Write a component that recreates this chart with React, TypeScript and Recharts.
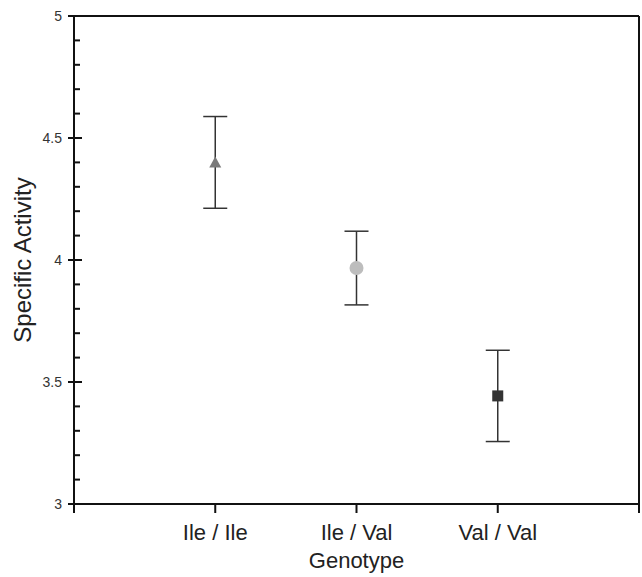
import { ScatterChart, Scatter, XAxis, YAxis, ErrorBar } from 'recharts';

const genotypes = ['Ile / Ile', 'Ile / Val', 'Val / Val'];
const positions = [1, 2, 3];
const means = [4.4, 3.967, 3.443];
const errors = [0.188, 0.151, 0.187];
const markerFills = ['#7a7a7a', '#bdbdbd', '#333333'];
const markerShapes = ['triangle', 'circle', 'square'];

const xTicks = [0, 1, 2, 3, 4];
const yTicks = [3, 3.1, 3.2, 3.3, 3.4, 3.5, 3.6, 3.7, 3.8, 3.9, 4, 4.1, 4.2, 4.3, 4.4, 4.5, 4.6, 4.7, 4.8, 4.9, 5];

const series = genotypes.map((name, i) => ({
	name,
	shape: markerShapes[i],
	fill: markerFills[i],
	data: [{ x: positions[i], y: means[i], err: errors[i] }],
}));

const FONT = '"Liberation Sans", Arial, sans-serif';
const AXIS = '#111';

const isMajor = (v: number) => Math.abs(v * 2 - Math.round(v * 2)) < 1e-6;

function LeftTick({ x, y, payload }: any) {
	const major = isMajor(payload.value);
	return (
		<g>
			<line
				x1={major ? x - 6 : x}
				x2={major ? x + 8 : x + 6}
				y1={y}
				y2={y}
				stroke={AXIS}
				strokeWidth={2}
			/>
			{major && (
				<text
					x={x - 12}
					y={y + 5}
					textAnchor="end"
					fontSize={14}
					fontFamily={FONT}
					fill="#333"
				>
					{String(payload.value)}
				</text>
			)}
		</g>
	);
}

function RightTick({ x, y, payload }: any) {
	const major = isMajor(payload.value);
	return (
		<line
			x1={x}
			x2={major ? x - 10 : x - 6}
			y1={y}
			y2={y}
			stroke={AXIS}
			strokeWidth={2}
		/>
	);
}

function BottomTick({ x, y, payload }: any) {
	const idx = positions.indexOf(payload.value);
	return (
		<g>
			<line x1={x} x2={x} y1={y} y2={y + 9} stroke={AXIS} strokeWidth={2} />
			{idx >= 0 && (
				<text
					x={x}
					y={y + 36}
					textAnchor="middle"
					fontSize={22}
					fontFamily={FONT}
					fill="#222"
				>
					{genotypes[idx]}
				</text>
			)}
		</g>
	);
}

function Marker({ cx, cy, kind, fill }: any) {
	if (kind === 'triangle') {
		return (
			<polygon
				points={`${cx},${cy - 6} ${cx - 6},${cy + 5} ${cx + 6},${cy + 5}`}
				fill={fill}
			/>
		);
	}
	if (kind === 'circle') {
		return <circle cx={cx} cy={cy} r={7} fill={fill} />;
	}
	return <rect x={cx - 5.5} y={cy - 5.5} width={11} height={11} fill={fill} />;
}

export default function App() {
	return (
		<div style={{ position: 'absolute', left: 0, top: 0, background: '#fff' }}>
			<ScatterChart
				width={642}
				height={577}
				margin={{ top: 0, right: 0, bottom: 0, left: 0 }}
			>
				<XAxis
					xAxisId="bottom"
					dataKey="x"
					type="number"
					domain={[0, 4]}
					ticks={xTicks}
					height={73}
					tickSize={0}
					tickMargin={0}
					tickLine={false}
					axisLine={{ stroke: AXIS, strokeWidth: 2 }}
					tick={<BottomTick />}
					interval={0}
					label={{
						value: 'Genotype',
						position: 'insideBottom',
						offset: 9,
						fontSize: 22,
						fontFamily: FONT,
						fill: '#222',
					}}
				/>
				<XAxis
					xAxisId="top"
					orientation="top"
					type="number"
					domain={[0, 4]}
					height={16}
					tick={false}
					tickLine={false}
					axisLine={{ stroke: AXIS, strokeWidth: 2 }}
				/>
				<YAxis
					yAxisId="left"
					dataKey="y"
					type="number"
					domain={[3, 5]}
					ticks={yTicks}
					width={74}
					tickSize={0}
					tickMargin={0}
					tickLine={false}
					axisLine={{ stroke: AXIS, strokeWidth: 2 }}
					tick={<LeftTick />}
					interval={0}
					label={{
						value: 'Specific Activity',
						angle: -90,
						position: 'insideLeft',
						offset: 22,
						style: { textAnchor: 'middle' },
						fontSize: 24,
						fontFamily: FONT,
						fill: '#222',
					}}
				/>
				<YAxis
					yAxisId="right"
					orientation="right"
					type="number"
					domain={[3, 5]}
					ticks={yTicks}
					width={3}
					tickSize={0}
					tickMargin={0}
					tickLine={false}
					axisLine={{ stroke: AXIS, strokeWidth: 2 }}
					tick={<RightTick />}
					interval={0}
				/>
				{series.map((s) => (
					<Scatter
						key={s.name}
						name={s.name}
						data={s.data}
						xAxisId="bottom"
						yAxisId="left"
						isAnimationActive={false}
						shape={(props: any) => (
							<Marker cx={props.cx} cy={props.cy} kind={s.shape} fill={s.fill} />
						)}
					>
						<ErrorBar
							dataKey="err"
							direction="y"
							width={12}
							stroke="#333"
							strokeWidth={1.5}
							isAnimationActive={false}
						/>
					</Scatter>
				))}
			</ScatterChart>
		</div>
	);
}
